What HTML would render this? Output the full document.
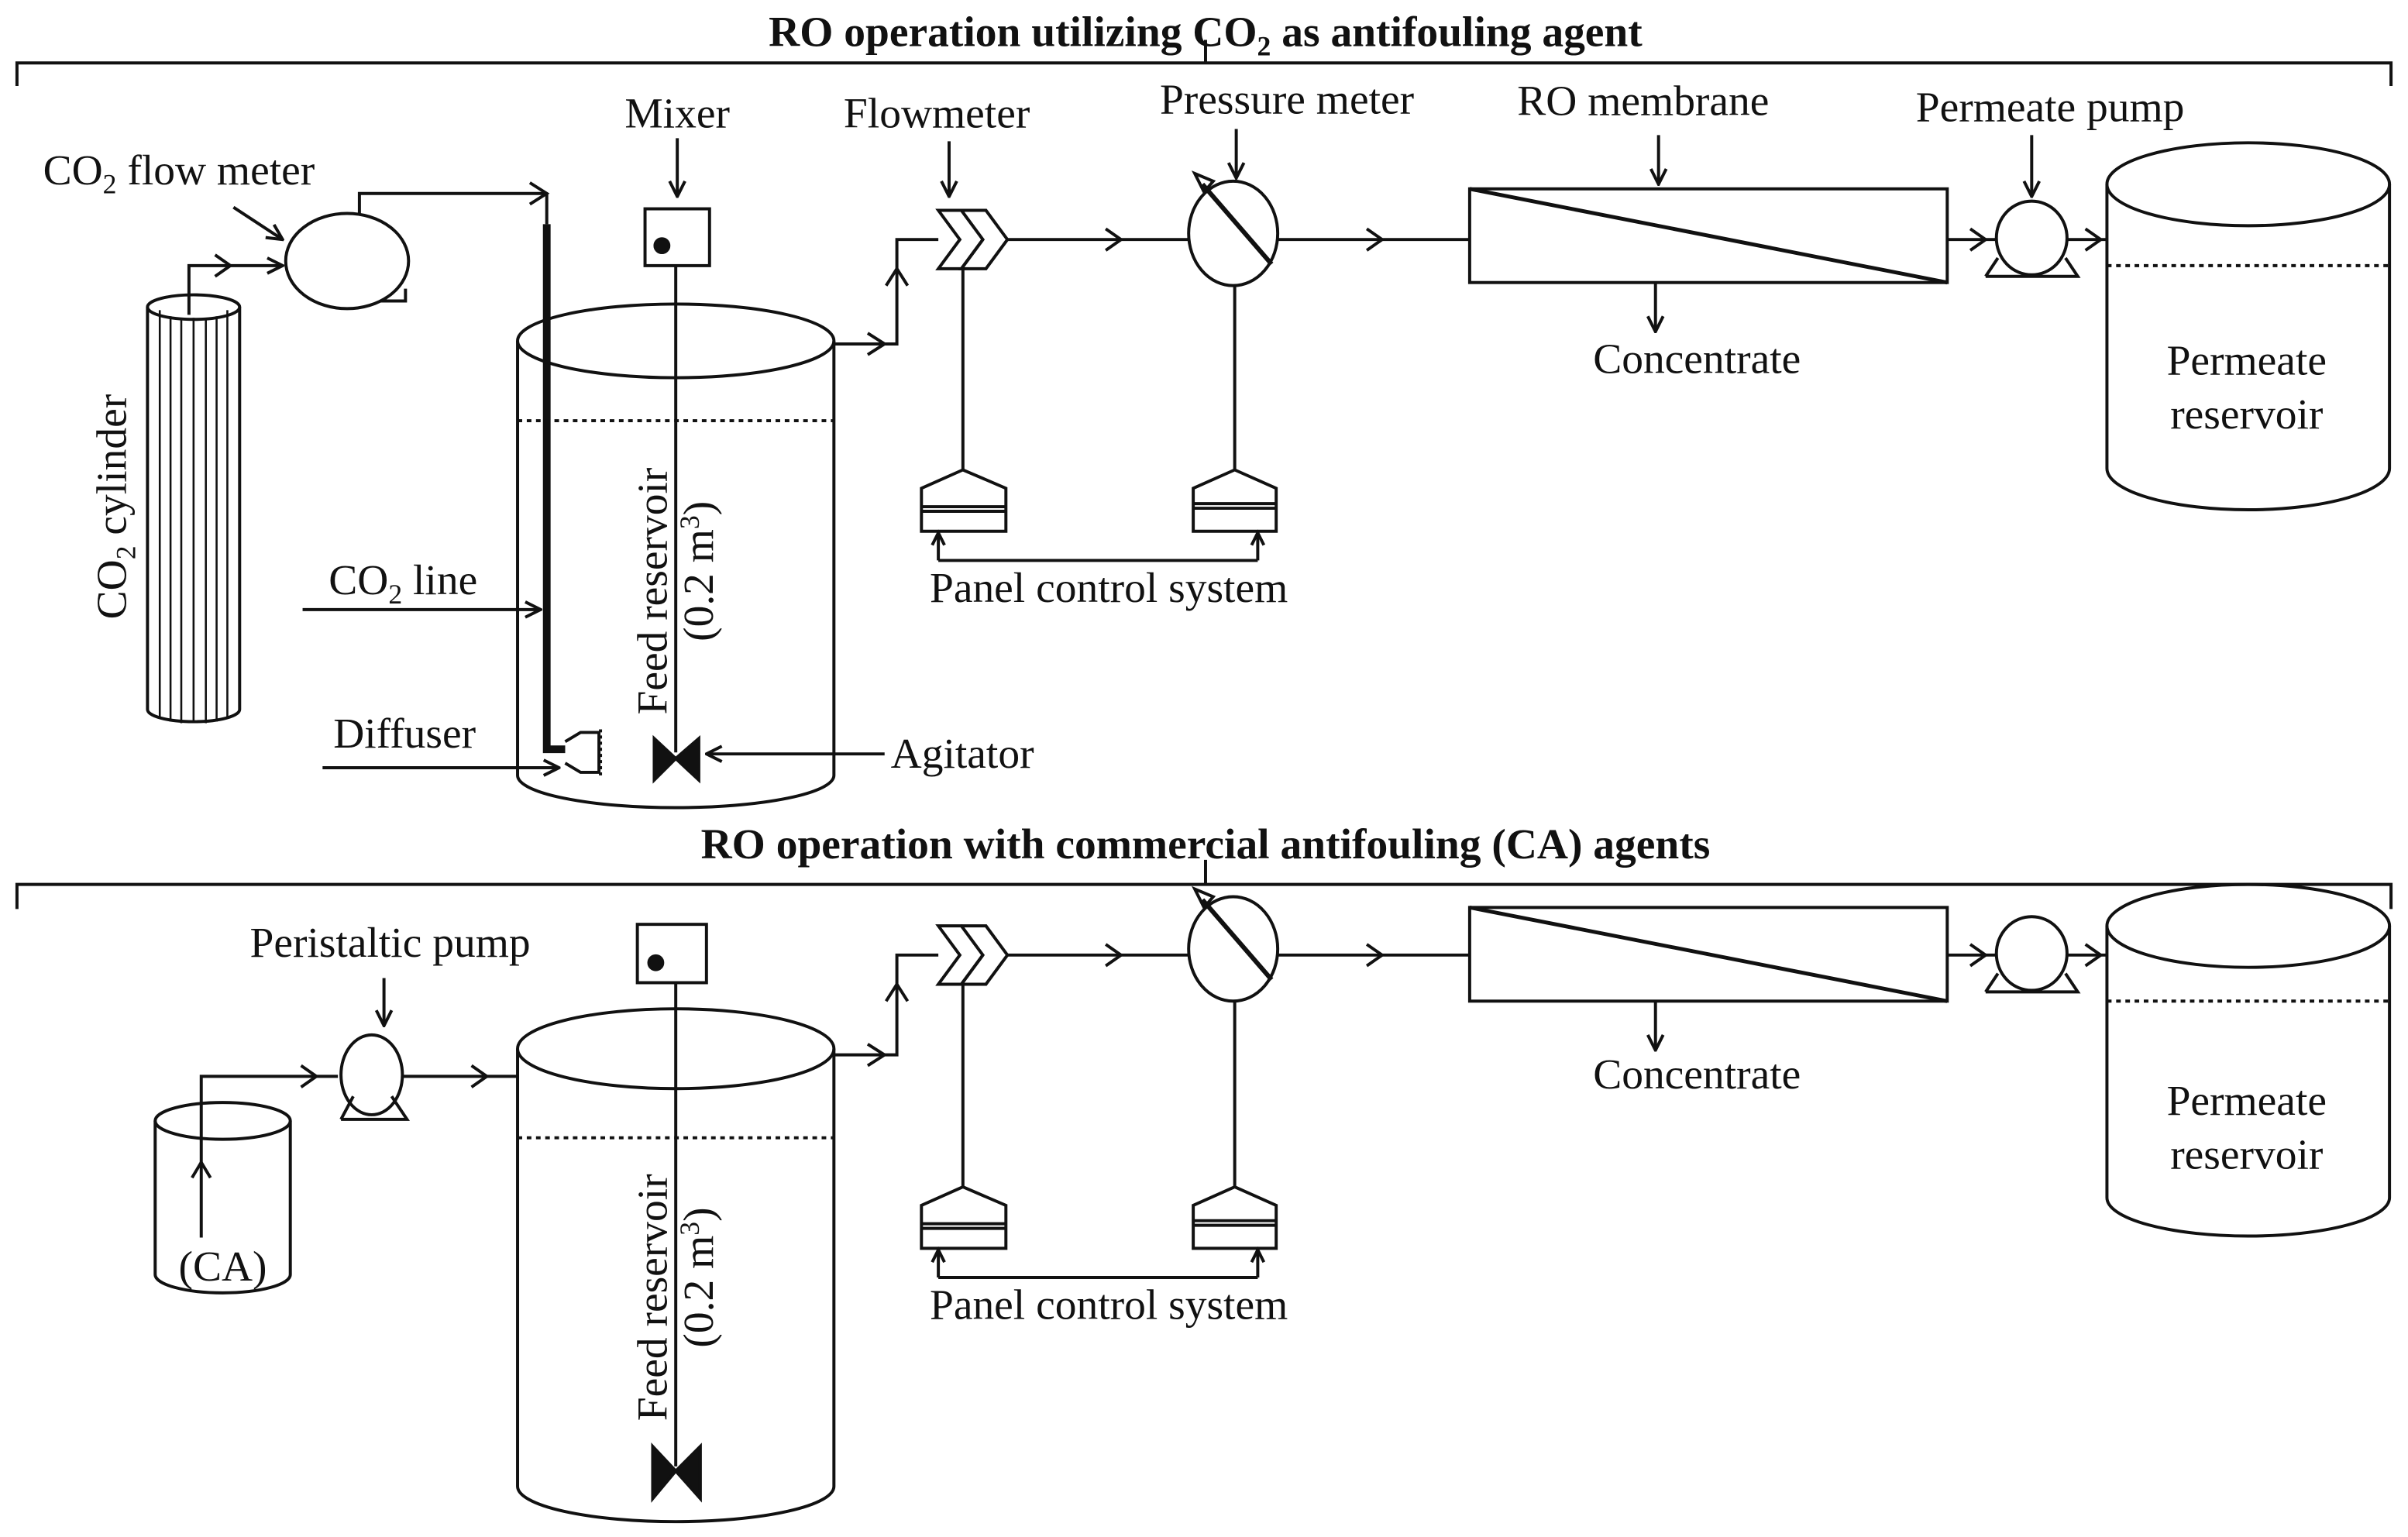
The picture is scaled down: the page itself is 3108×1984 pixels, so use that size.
<!DOCTYPE html>
<html><head><meta charset="utf-8"><style>
html,body{margin:0;padding:0;background:#fff}
svg{display:block}
text{font-family:"Liberation Serif",serif;fill:#111}
</style></head><body>
<svg width="3108" height="1984" viewBox="0 0 1568 1001" xmlns="http://www.w3.org/2000/svg">
<defs>
<marker id="a" viewBox="0 0 12 12" refX="11" refY="6" markerWidth="12" markerHeight="12" markerUnits="userSpaceOnUse" orient="auto">
<path d="M1,1 L11,6 L1,11" fill="none" stroke="#111" stroke-width="2"/>
</marker>
</defs>
<g fill="none" stroke="#111" stroke-width="2">
<path d="M11,56 V41 H1557 V56 M785,41 V26"/>
<path d="M11,592 V576 H1557 V592 M785,576 V560"/>

<!-- ===== TOP ===== -->
<path d="M96,200 V462 A30,8 0 0 0 156,462 V200"/>
<ellipse cx="126" cy="200" rx="30" ry="8"/>
<path d="M104,202 V468 M111,206 V470 M118,207 V471 M126,207 V471 M134,207 V471 M141,206 V470 M148,202 V468" stroke-width="1.3"/>
<path d="M123,205 V173 H184" marker-end="url(#a)"/>
<path d="M140,166 L150,173 L140,180"/>
<ellipse cx="226" cy="170" rx="40" ry="31"/>
<path d="M248,196 H264 V188"/>
<path d="M234,139 V126 H356" />
<path d="M345,119 L356,126 L345,133"/>
<path d="M356,126 V146"/>
<path d="M356,146 V488 H368" stroke-width="5"/>
<path d="M368,483 L378,477 H390 V503 H378 L368,497"/>
<path d="M391,475 V505" stroke-dasharray="2,2"/>
<path d="M152,135 L184,156" marker-end="url(#a)"/>
<path d="M197,397 H352" marker-end="url(#a)"/>
<path d="M210,500 H364" marker-end="url(#a)"/>
<ellipse cx="440" cy="222" rx="103" ry="24"/>
<path d="M337,222 V505 A103,21 0 0 0 543,505 V222"/>
<path d="M337,274 H543" stroke-dasharray="3,3"/>
<rect x="420" y="136" width="42" height="37"/>
<circle cx="431" cy="160" r="4.5" fill="#111"/>
<path d="M440,173 V490"/>
<path d="M426,481 L440,494 L426,508 Z M455,481 L440,494 L455,508 Z" fill="#111"/>
<path d="M441,90 V128" marker-end="url(#a)"/>
<path d="M576,491 H460" marker-end="url(#a)"/>
<path d="M543,224 H584 V156 H611"/>
<path d="M565,217 L576,224 L565,231"/>
<path d="M577,186 L584,175 L591,186"/>
<path d="M611,137 H626 L640,156 L626,175 H611 L625,156 Z"/>
<path d="M626,137 H642 L656,156 L642,175 H626 L640,156"/>
<path d="M618,92 V128" marker-end="url(#a)"/>
<path d="M656,156 H774"/>
<path d="M720,149 L730,156 L720,163"/>
<ellipse cx="803" cy="152" rx="29" ry="34"/>
<path d="M828,172 L783,120" stroke-width="3"/>
<path d="M778,113 L790,118 L784,125 Z"/>
<path d="M805,84 V116" marker-end="url(#a)"/>
<path d="M832,156 H957"/>
<path d="M890,149 L900,156 L890,163"/>
<path d="M627,175 V306 M804,186 V306"/>
<path d="M600,346 V318 L627,306 L655,318 V346 Z M600,330 H655 M600,333 H655"/>
<path d="M777,346 V318 L804,306 L831,318 V346 Z M777,328 H831 M777,331 H831"/>
<path d="M611,365 H819 M611,365 V348 M819,365 V348"/>
<path d="M607,355 L611,347 L615,355 M815,355 L819,347 L823,355"/>
<rect x="957" y="123" width="311" height="61"/>
<path d="M957,123 L1268,184" stroke-width="2.5"/>
<path d="M1080,88 V120" marker-end="url(#a)"/>
<path d="M1078,184 V216" marker-end="url(#a)"/>
<path d="M1268,156 H1300"/>
<path d="M1283,149 L1293,156 L1283,163"/>
<ellipse cx="1323" cy="155" rx="23" ry="24"/>
<path d="M1293,180 H1353 L1345,168 M1293,180 L1301,168"/>
<path d="M1323,88 V128" marker-end="url(#a)"/>
<path d="M1346,156 H1372"/>
<path d="M1358,149 L1368,156 L1358,163"/>
<ellipse cx="1464" cy="120" rx="92" ry="27"/>
<path d="M1372,120 V305 A92,27 0 0 0 1556,305 V120"/>
<path d="M1372,173 H1556" stroke-dasharray="3,3"/>

<!-- ===== BOTTOM ===== -->
<ellipse cx="145" cy="730" rx="44" ry="12"/>
<path d="M101,730 V830 A44,12 0 0 0 189,830 V730"/>
<path d="M131,806 V701 H220"/>
<path d="M125,767 L131,757 L137,767"/>
<path d="M196,694 L206,701 L196,708"/>
<ellipse cx="242" cy="700" rx="20" ry="26"/>
<path d="M222,729 H265 L255,714 M222,729 L230,714"/>
<path d="M250,637 V668" marker-end="url(#a)"/>
<path d="M262,701 H337"/>
<path d="M307,694 L317,701 L307,708"/>
<ellipse cx="440" cy="683" rx="103" ry="26"/>
<path d="M337,683 V968 A103,23 0 0 0 543,968 V683"/>
<path d="M337,741 H543" stroke-dasharray="3,3"/>
<rect x="415" y="602" width="45" height="38"/>
<circle cx="427" cy="627" r="4.5" fill="#111"/>
<path d="M440,640 V955"/>
<path d="M425,942 L440,958 L425,976 Z M456,942 L440,958 L456,976 Z" fill="#111"/>
<path d="M543,687 H584 V622 H611"/>
<path d="M565,680 L576,687 L565,694"/>
<path d="M577,652 L584,641 L591,652"/>
<path d="M611,603 H626 L640,622 L626,641 H611 L625,622 Z"/>
<path d="M626,603 H642 L656,622 L642,641 H626 L640,622"/>
<path d="M656,622 H774"/>
<path d="M720,615 L730,622 L720,629"/>
<ellipse cx="803" cy="618" rx="29" ry="34"/>
<path d="M828,638 L783,586" stroke-width="3"/>
<path d="M778,579 L790,584 L784,591 Z"/>
<path d="M832,622 H957"/>
<path d="M890,615 L900,622 L890,629"/>
<path d="M627,641 V773 M804,652 V773"/>
<path d="M600,813 V785 L627,773 L655,785 V813 Z M600,797 H655 M600,800 H655"/>
<path d="M777,813 V785 L804,773 L831,785 V813 Z M777,795 H831 M777,798 H831"/>
<path d="M611,832 H819 M611,832 V815 M819,832 V815"/>
<path d="M607,822 L611,814 L615,822 M815,822 L819,814 L823,822"/>
<rect x="957" y="591" width="311" height="61"/>
<path d="M957,591 L1268,652" stroke-width="2.5"/>
<path d="M1078,652 V684" marker-end="url(#a)"/>
<path d="M1268,622 H1300"/>
<path d="M1283,615 L1293,622 L1283,629"/>
<ellipse cx="1323" cy="621" rx="23" ry="24"/>
<path d="M1293,646 H1353 L1345,634 M1293,646 L1301,634"/>
<path d="M1346,622 H1372"/>
<path d="M1358,615 L1368,622 L1358,629"/>
<ellipse cx="1464" cy="603" rx="92" ry="27"/>
<path d="M1372,603 V780 A92,25 0 0 0 1556,780 V603"/>
<path d="M1372,652 H1556" stroke-dasharray="3,3"/>
</g>

<g font-size="28">
<text x="785" y="30" text-anchor="middle" font-weight="bold" font-size="28">RO operation utilizing CO<tspan font-size="18" dy="6">2</tspan><tspan dy="-6"> as antifouling agent</tspan></text>
<text x="785" y="559" text-anchor="middle" font-weight="bold" font-size="28">RO operation with commercial antifouling (CA) agents</text>
<text x="28" y="120">CO<tspan font-size="18" dy="6">2</tspan><tspan dy="-6"> flow meter</tspan></text>
<text x="441" y="83" text-anchor="middle">Mixer</text>
<text x="610" y="83" text-anchor="middle">Flowmeter</text>
<text x="838" y="74" text-anchor="middle">Pressure meter</text>
<text x="1070" y="75" text-anchor="middle">RO membrane</text>
<text x="1335" y="79" text-anchor="middle">Permeate pump</text>
<text x="1105" y="243" text-anchor="middle">Concentrate</text>
<text x="1463" y="244" text-anchor="middle">Permeate</text>
<text x="1463" y="279" text-anchor="middle">reservoir</text>
<text x="722" y="392" text-anchor="middle">Panel control system</text>
<text x="214" y="387">CO<tspan font-size="18" dy="6">2</tspan><tspan dy="-6"> line</tspan></text>
<text x="217" y="487">Diffuser</text>
<text x="580" y="500">Agitator</text>
<text transform="translate(82,330) rotate(-90)" text-anchor="middle">CO<tspan font-size="18" dy="6">2</tspan><tspan dy="-6"> cylinder</tspan></text>
<text transform="translate(434,385) rotate(-90)" text-anchor="middle">Feed reservoir</text>
<text transform="translate(464,372) rotate(-90)" text-anchor="middle">(0.2 m<tspan font-size="18" dy="-9">3</tspan><tspan dy="9">)</tspan></text>

<text x="254" y="623" text-anchor="middle">Peristaltic pump</text>
<text x="145" y="834" text-anchor="middle">(CA)</text>
<text x="1105" y="709" text-anchor="middle">Concentrate</text>
<text x="1463" y="726" text-anchor="middle">Permeate</text>
<text x="1463" y="761" text-anchor="middle">reservoir</text>
<text x="722" y="859" text-anchor="middle">Panel control system</text>
<text transform="translate(434,845) rotate(-90)" text-anchor="middle">Feed reservoir</text>
<text transform="translate(464,832) rotate(-90)" text-anchor="middle">(0.2 m<tspan font-size="18" dy="-9">3</tspan><tspan dy="9">)</tspan></text>
</g>
</svg>
</body></html>
